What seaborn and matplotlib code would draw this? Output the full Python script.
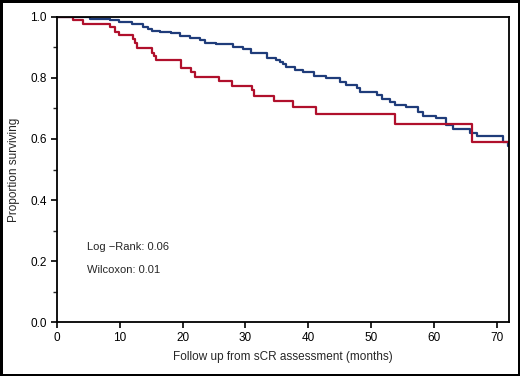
import pandas as pd
import seaborn as sns
import matplotlib.pyplot as plt
from matplotlib.ticker import MultipleLocator

# red group (step curve: month, proportion surviving)
red_months = [0, 2.5, 4.2, 8.4, 9.2, 9.8, 12.1, 12.4, 12.7, 15.1, 15.4, 15.8,
              19.7, 21.3, 22.0, 25.8, 27.9, 31.1, 31.4, 34.5, 37.6, 41.2,
              53.8, 66.1, 72.0]
red_surv = [1.0, 0.99, 0.977, 0.966, 0.952, 0.940, 0.927, 0.914, 0.897, 0.883,
            0.872, 0.859, 0.832, 0.821, 0.802, 0.790, 0.774, 0.761, 0.742,
            0.726, 0.704, 0.682, 0.649, 0.590, 0.590]

# blue group
blue_months = [0, 5.2, 8.4, 9.8, 11.9, 13.7, 14.5, 15.1, 16.4, 18.2, 19.6, 21.2,
               22.7, 23.5, 25.4, 28.0, 29.6, 30.9, 33.4, 34.9, 35.5, 36.0,
               36.5, 37.9, 39.2, 41.0, 42.9, 45.0, 46.1, 47.7, 48.2, 50.9,
               51.7, 53.0, 53.8, 55.6, 57.5, 58.3, 60.4, 62.0, 63.0, 65.7,
               66.9, 71.0, 71.8, 72.0]
blue_surv = [1.0, 0.995, 0.990, 0.983, 0.977, 0.968, 0.962, 0.955, 0.952, 0.946,
             0.938, 0.932, 0.925, 0.916, 0.911, 0.903, 0.894, 0.883, 0.865,
             0.859, 0.852, 0.845, 0.837, 0.826, 0.819, 0.807, 0.799, 0.788,
             0.777, 0.766, 0.755, 0.744, 0.730, 0.720, 0.711, 0.706, 0.690,
             0.675, 0.668, 0.646, 0.632, 0.621, 0.610, 0.591, 0.578, 0.578]

red_color = "#b0102c"
blue_color = "#1f3c7a"

sns.set_style("ticks")
plt.rcParams["font.family"] = ["Liberation Sans", "DejaVu Sans"]

fig = plt.figure(figsize=(5.2, 3.76), dpi=100, edgecolor="black", linewidth=2.5)
ax = fig.add_axes([0.1096, 0.1436, 0.8694, 0.8112])

red_df = pd.DataFrame({"month": red_months, "surv": red_surv})
blue_df = pd.DataFrame({"month": blue_months, "surv": blue_surv})

sns.lineplot(data=blue_df, x="month", y="surv", drawstyle="steps-post",
             color=blue_color, linewidth=1.6, ax=ax)
sns.lineplot(data=red_df, x="month", y="surv", drawstyle="steps-post",
             color=red_color, linewidth=1.6, ax=ax)

ax.set_xlim(0, 72)
ax.set_ylim(0, 1.0)
ax.xaxis.set_major_locator(MultipleLocator(10))
ax.yaxis.set_major_locator(MultipleLocator(0.2))
ax.yaxis.set_minor_locator(MultipleLocator(0.1))
ax.yaxis.set_major_formatter(plt.FormatStrFormatter("%.1f"))
ax.tick_params(axis="both", which="major", length=4, width=1.2, labelsize=8.5,
               colors="black")
ax.tick_params(axis="y", which="minor", length=3, width=1.0)

for s in ax.spines.values():
    s.set_visible(True)
    s.set_linewidth(1.3)
    s.set_color("black")

ax.set_xlabel("Follow up from sCR assessment (months)", fontsize=8.5,
              labelpad=5)
ax.set_ylabel("Proportion surviving", fontsize=8.5, labelpad=7)

ax.text(4.8, 0.247, "Log \u2212Rank: 0.06", fontsize=8, va="center")
ax.text(4.8, 0.17, "Wilcoxon: 0.01", fontsize=8, va="center")

plt.savefig("out.png", dpi=100)
